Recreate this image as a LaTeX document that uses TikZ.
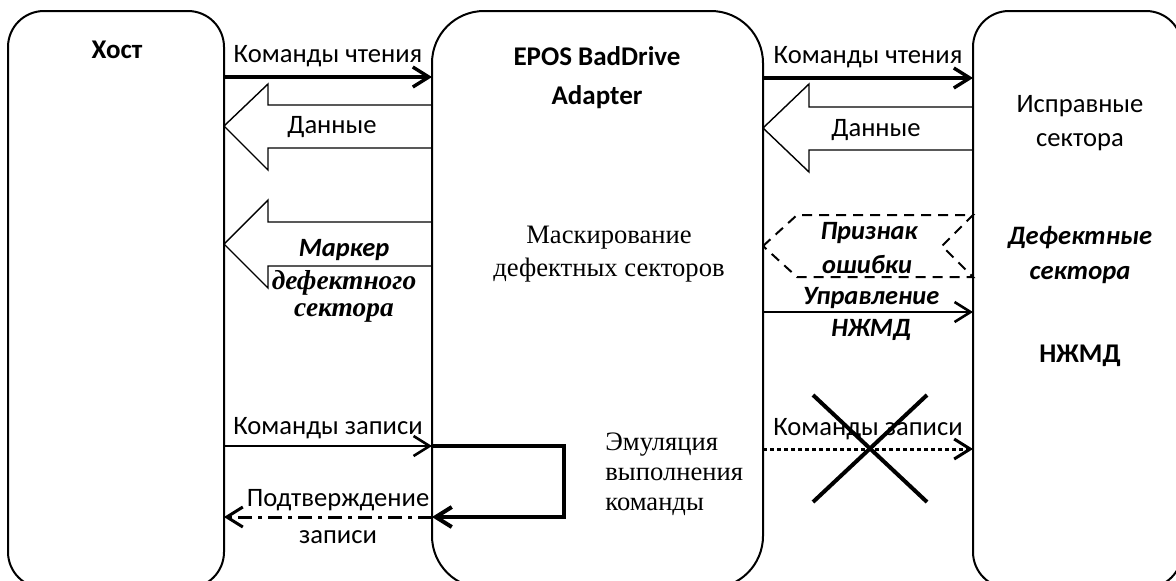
\documentclass[tikz,border=0pt]{standalone}
\usepackage{fontspec}
\setmainfont{Liberation Serif}
\setsansfont{Carlito}
\usetikzlibrary{arrows.meta, positioning, calc}

\begin{document}
\begin{tikzpicture}[
		x=0.5pt, y=-0.5pt,
		every node/.style={font=\sffamily\fontsize{13.3}{15}\selectfont, inner sep=1pt},
		box/.style={draw, line width=1pt, inner sep=0pt, outer sep=0pt, minimum height=288.5pt},
		title/.style={font=\sffamily\bfseries\fontsize{13.5}{16}\selectfont},
		note/.style={font=\rmfamily\fontsize{13.3}{16.5}\selectfont, align=center},
		marker/.style={font=\sffamily\bfseries\itshape\fontsize{13.2}{15}\selectfont},
		markerrm/.style={font=\rmfamily\bfseries\itshape\fontsize{13.7}{15}\selectfont},
		cmd/.style={-{Straight Barb[length=8pt,width=10pt]}, line width=1.5pt},
		hollow/.style={draw, line width=0.7pt, line join=miter},
		errflag/.style={draw, line width=1pt, dash pattern=on 5pt off 3.5pt},
		ack/.style={-{Straight Barb[length=8pt,width=10pt]}, line width=1.5pt, dash pattern=on 7pt off 3pt on 2pt off 3pt},
		dotcmd/.style={-{Straight Barb[length=8pt,width=10pt]}, line width=1.5pt, dash pattern=on 2pt off 1.5pt},
		cross/.style={line width=2pt}
		]
		
		\useasboundingbox (0,0) rectangle (1176,580);
		\clip (0,0) rectangle (1176,580);
		
		% Blocks
		\node[box, rounded corners=18pt, minimum width=108pt] (host) at (116,299.5) {};
		\node[box, rounded corners=26pt, minimum width=165.5pt] (adapter) at (597.5,299.5) {};
		\node[box, rounded corners=18pt, minimum width=104.5pt] (disk) at (1077.5,299.5) {};
		
		\node[title] (hostname) at (117,50) {Хост};
		\node[title] (adname1) at (597,56) {EPOS BadDrive};
		\node[title] (adname2) at (597,97) {Adapter};
		\node[note] (masking) at (609,254) {Маскирование\\дефектных секторов};
		\node[note, align=left, anchor=west, font=\rmfamily\fontsize{13.3}{15}\selectfont] (emul) at (603,474) {Эмуляция\\выполнения\\команды};
		
		\node (good) [align=center, font=\sffamily\fontsize{13.3}{17}\selectfont] at (1080,123) {Исправные\\сектора};
		\node[marker, align=center, font=\sffamily\bfseries\itshape\fontsize{13.3}{17.5}\selectfont] (bad) at (1080,255) {Дефектные\\сектора};
		\node[title] (diskname) at (1080,356) {НЖМД};
		
		% Host <-> adapter
		\draw[cmd, line width=1.7pt] (host.east |- 0,77) -- node[above=3pt] (rdleft) {Команды чтения} (adapter.west |- 0,77);
		\draw[hollow] (host.east |- 0,126) -- (268,84) -- (268,105) -- (adapter.west |- 0,105)
			-- (adapter.west |- 0,148) -- (268,148) -- (268,170) -- cycle;
		\node (dataleft) at (332,127) {Данные};
		\draw[hollow] (host.east |- 0,244) -- (268,200) -- (268,222) -- (adapter.west |- 0,222)
			-- (adapter.west |- 0,266) -- (268,266) -- (268,288) -- cycle;
		\node[marker] (mark1) at (344,250) {Маркер};
		\node[markerrm] (mark2) at (344,283) {дефектного};
		\node[markerrm] (mark3) at (344,313) {сектора};
		
		\draw[cmd, line width=1.3pt] (host.east |- 0,446) -- node[above=2pt] (wrleft) {Команды записи} (adapter.west |- 0,446);
		\draw[cmd, line width=2pt] (adapter.west |- 0,446) -- (564,446) -- (564,517) -- (adapter.west |- 0,517);
		\draw[ack] (adapter.west |- 0,517) -- (host.east |- 0,517);
		\node (ack1) at (338,500) {Подтверждение};
		\node (ack2) at (338,537) {записи};
		
		% Adapter <-> disk
		\draw[cmd, line width=1.7pt] (adapter.east |- 0,78) -- node[above=3pt] (rdright) {Команды чтения} (disk.west |- 0,78);
		\draw[hollow] (adapter.east |- 0,128) -- (809,84) -- (809,107) -- (disk.west |- 0,107)
			-- (disk.west |- 0,150) -- (809,150) -- (809,172) -- cycle;
		\node (dataright) at (876,130) {Данные};
		\draw[errflag] (adapter.east |- 0,246) -- (797,215) -- (disk.west |- 0,215) -- (942,246)
			-- (disk.west |- 0,277) -- (797,277) -- cycle;
		\node[marker] (err1) at (869,233) {Признак};
		\node[marker] (err2) at (867,265) {ошибки};
		
		\draw[cmd, line width=1.3pt] (adapter.east |- 0,312) -- (disk.west |- 0,312);
		\node[marker] (ctl1) at (871,298) {Управление};
		\node[marker] (ctl2) at (871,330) {НЖМД};
		
		\draw[dotcmd] (adapter.east |- 0,449) -- node[above=3pt] (wrright) {Команды записи} (disk.west |- 0,449);
		\draw[cross] (813,395) -- (927,502);
		\draw[cross] (813,502) -- (927,395);
		
	\end{tikzpicture}
\end{document}
